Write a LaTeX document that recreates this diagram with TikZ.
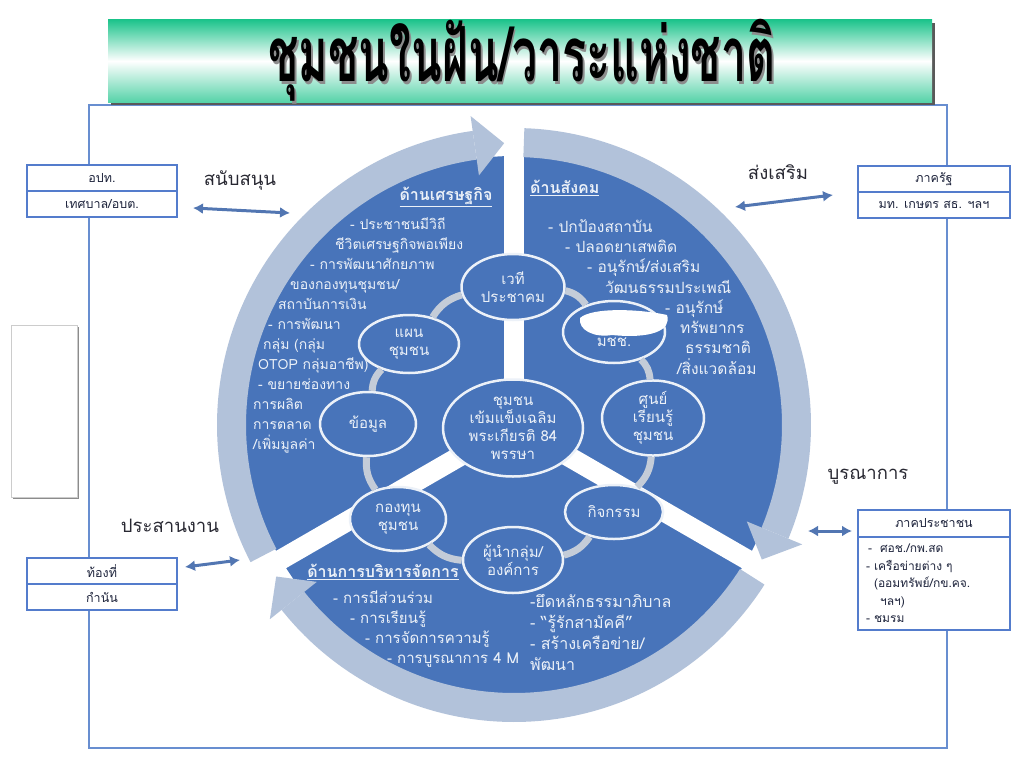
\documentclass[tikz,border=0pt]{standalone}
\usepackage{fontspec}
\newfontfamily\thaifont[Script=Thai]{Loma}
\usetikzlibrary{calc,positioning,shapes.geometric,arrows.meta}
\definecolor{wheelblue}{RGB}{72,116,186}
\definecolor{ringblue}{RGB}{178,194,218}
\definecolor{linkgrey}{RGB}{196,204,216}
\definecolor{ovalwhite}{RGB}{236,241,248}
\definecolor{textwhite}{RGB}{236,241,248}
\definecolor{framecol}{RGB}{104,142,208}
\definecolor{boxblue}{RGB}{84,124,204}
\definecolor{boxtext}{RGB}{30,36,60}
\definecolor{labeltext}{RGB}{40,40,50}
\definecolor{arrowblue}{RGB}{82,118,178}
\definecolor{titlegreen}{RGB}{30,196,140}
\def\cyclearrow(#1:#2){%
  \fill[ringblue] ($(C)+(#1:268)$) arc (#1:#2-6:268) -- ($(C)+(#2-6:297)$) arc (#2-6:#1:297) -- cycle;
  \fill[ringblue] ($(C)+(#2-6:252)$) -- ($(C)+(#2-6:312)$) -- ($(C)+(#2:282)$) -- cycle;}
\def\titletext{ชุมชนในฝัน/วาระแห่งชาติ}

\begin{document}
\begin{tikzpicture}[x=1pt, y=-1pt,
  wheelnode/.style={ellipse, draw=ovalwhite, line width=2.5pt, fill=wheelblue, text=textwhite, align=center, inner sep=0pt, font=\thaifont\fontsize{15}{18}\selectfont},
  ringlink/.style={draw=linkgrey, line width=7pt},
  gapwhite/.style={draw=white, line width=20pt},
  wheeltext/.style={text=textwhite, align=left, anchor=north west, inner sep=0pt, font=\thaifont\fontsize{14}{20}\selectfont},
  headtext/.style={text=textwhite, inner sep=0pt, font=\thaifont\bfseries\fontsize{16}{18}\selectfont},
  unitbox/.style={draw=boxblue, line width=2pt, fill=white, minimum width=150pt, minimum height=26pt, inner sep=1pt, outer sep=0pt, text=boxtext, font=\thaifont\fontsize{12.5}{14}\selectfont},
  sidelabel/.style={text=labeltext, font=\thaifont\fontsize{18.5}{20}\selectfont},
  linkarrow/.style={draw=arrowblue, line width=3pt, {Latex[length=10pt,width=11pt]}-{Latex[length=10pt,width=11pt]}}]
			%%%%% FRAME %%%%%
			\useasboundingbox (0,0) rectangle (1024,768);
			\draw[framecol, line width=2.5pt] (89,105) rectangle (947,748);
			
			\fill[black!65] (111,23) rectangle (935,105);
			\shade[top color=titlegreen, bottom color=titlegreen!75, middle color=white] (108,20) rectangle (932,102);
			\node[text=black, font=\thaifont\bfseries\fontsize{76}{80}\selectfont] (title) at (522,62) {\scalebox{0.59}[1]{\makebox[0pt][l]{\hspace{3pt}\raisebox{-3pt}{\color{black!45}\titletext}}\titletext}};
			
			\fill[black!45] (13,327) rectangle (79,499);
			\draw[black!20, fill=white] (11,325) rectangle (77,497);
			
			%%%%% WHEEL %%%%%
			\coordinate (C) at (514,425);
			\fill[wheelblue] (C) circle (269);
			\draw[gapwhite] (C) -- ($(C)+(270:312)$);
			\draw[gapwhite] (C) -- ($(C)+(30:312)$);
			\draw[gapwhite] (C) -- ($(C)+(150:312)$);
			
			\cyclearrow(152.5:268);
			\cyclearrow(272:388.5);
			\cyclearrow(32.5:147.5);
			
			\node[wheelnode, minimum width=140pt, minimum height=97pt] (core) at (513,428) {ชุมชน\\เข้มแข็งเฉลิม\\พระเกียรติ 84\\พรรษา};
			\node[wheelnode, minimum width=103pt, minimum height=66pt] (vethi) at (513,287) {เวที\\ประชาคม};
			\node[wheelnode, minimum width=100pt, minimum height=58pt] (plan) at (409,344) {แผน\\ชุมชน};
			\node[wheelnode, minimum width=96pt, minimum height=64pt] (data) at (368,424) {ข้อมูล};
			\node[wheelnode, minimum width=96pt, minimum height=64pt] (fund) at (398,519) {กองทุน\\ชุมชน};
			\node[wheelnode, minimum width=100pt, minimum height=66pt] (leader) at (513,560) {ผู้นำกลุ่ม/\\องค์การ};
			\node[wheelnode, minimum width=98pt, minimum height=54pt] (activity) at (614,512) {กิจกรรม};
			\node[wheelnode, minimum width=102pt, minimum height=63pt] (learn) at (653,418) {ศูนย์\\เรียนรู้\\ชุมชน};
			\node[wheelnode, minimum width=102pt, minimum height=62pt] (mchch) at (614,332) {\rule{0pt}{12pt}\\มชช.};
			\fill[white] (580,318) .. controls (592,307) and (640,309) .. (667,315) .. controls (672,330) and (652,339) .. (612,335) .. controls (594,338) and (578,330) .. cycle;
			
			\draw[ringlink] (vethi) to[bend right=20] (plan);
			\draw[ringlink] (plan) to[bend right=20] (data);
			\draw[ringlink] (data) to[bend right=20] (fund);
			\draw[ringlink] (fund) to[bend right=20] (leader);
			\draw[ringlink] (leader) to[bend right=20] (activity);
			\draw[ringlink] (activity) to[bend right=20] (learn);
			\draw[ringlink] (learn) to[bend right=20] (mchch);
			\draw[ringlink] (mchch) to[bend right=20] (vethi);
			
			%%%%% SECTOR TEXT %%%%%
			\node[headtext] (ecohead) at (446,197) {\underline{ด้านเศรษฐกิจ}};
			\node[wheeltext] (ecotext) at (253,217) {\hspace*{97pt}- ประชาชนมีวิถี\\ \hspace*{82pt}ชีวิตเศรษฐกิจพอเพียง\\ \hspace*{57pt}- การพัฒนาศักยภาพ\\ \hspace*{37pt}ของกองทุนชุมชน/\\ \hspace*{25pt}สถาบันการเงิน\\ \hspace*{15pt}- การพัฒนา\\ \hspace*{10pt}กลุ่ม (กลุ่ม\\ \hspace*{5pt}OTOP กลุ่มอาชีพ)\\ \hspace*{5pt}- ขยายช่องทาง\\ การผลิต\\ การตลาด\\ /เพิ่มมูลค่า};
			
			\node[headtext, anchor=west] (sochead) at (530,188) {\underline{ด้านสังคม}};
			\node[wheeltext, font=\thaifont\fontsize{15.5}{20.3}\selectfont] (soctext) at (548,219) {- ปกป้องสถาบัน\\ \hspace*{17pt}- ปลอดยาเสพติด\\ \hspace*{39pt}- อนุรักษ์/ส่งเสริม\\ \hspace*{57pt}วัฒนธรรมประเพณี\\ \hspace*{117pt}- อนุรักษ์\\ \hspace*{132pt}ทรัพยากร\\ \hspace*{137pt}ธรรมชาติ\\ \hspace*{129pt}/สิ่งแวดล้อม};
			
			\node[headtext] (mgthead) at (383,572) {\underline{ด้านการบริหารจัดการ}};
			\node[wheeltext, font=\thaifont\fontsize{15}{20}\selectfont] (mgttext) at (333,591) {- การมีส่วนร่วม\\ \hspace*{17pt}- การเรียนรู้\\ \hspace*{32pt}- การจัดการความรู้\\ \hspace*{54pt}- การบูรณาการ 4 M};
			\node[wheeltext, font=\thaifont\fontsize{16}{21}\selectfont] (govtext) at (530,594) {-ยึดหลักธรรมาภิบาล\\ - “รู้รักสามัคคี”\\ - สร้างเครือข่าย/\\ พัฒนา};
			
			%%%%% PARTNERS %%%%%
			\node[unitbox] (opt) at (102,178) {อปท.};
			\node[unitbox, below=0pt of opt] (tessaban) {เทศบาล/อบต.};
			\node[unitbox, minimum width=152pt] (rat) at (934,179) {ภาครัฐ};
			\node[unitbox, minimum width=152pt, below=0pt of rat] (ministry) {มท. เกษตร สธ. ฯลฯ};
			\node[unitbox] (hongthi) at (102,571) {ท้องที่};
			\node[unitbox, below=0pt of hongthi] (kamnan) {กำนัน};
			\node[unitbox, minimum width=152pt, minimum height=27pt] (people) at (934,523.5) {ภาคประชาชน};
			\node[unitbox, minimum width=152pt, minimum height=93pt, below=0pt of people, align=left, text width=136pt, font=\thaifont\fontsize{12}{17.5}\selectfont] (network) {\hspace*{2pt}-\ \ ศอช./กพ.สด\\ - เครือข่ายต่าง ๆ\\ \hspace*{8pt}(ออมทรัพย์/กข.คจ.\\ \hspace*{14pt}ฯลฯ)\\ - ชมรม};
			
			\node[sidelabel] (support) at (240,181) {สนับสนุน};
			\node[sidelabel] (promote) at (778,172) {ส่งเสริม};
			\node[sidelabel] (coord) at (170,526) {ประสานงาน};
			\node[sidelabel] (integrate) at (868,477) {บูรณาการ};
			
			\coordinate (supL) at (193,208);
			\coordinate (supR) at (290,213);
			\coordinate (promL) at (735,207);
			\coordinate (promR) at (833,195);
			\coordinate (coorL) at (185,567);
			\coordinate (coorR) at (240,560);
			\coordinate (intL) at (808,531);
			\coordinate (intR) at (852,531);
			\draw[linkarrow] (supL) -- (supR);
			\draw[linkarrow] (promL) -- (promR);
			\draw[linkarrow] (coorL) -- (coorR);
			\draw[linkarrow] (intL) -- (intR);
			%%%%% END %%%%%
\end{tikzpicture}
\end{document}
